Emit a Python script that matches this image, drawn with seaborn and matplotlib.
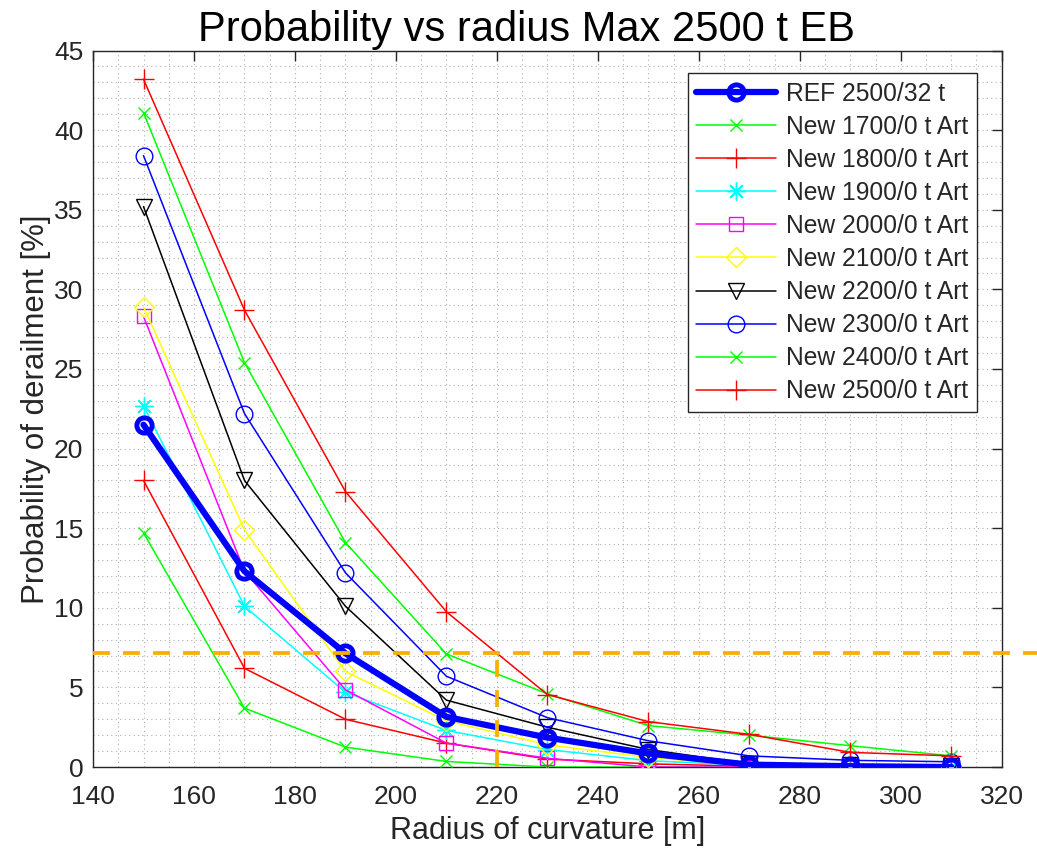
import numpy as np
import pandas as pd
import matplotlib
matplotlib.use("Agg")
import matplotlib.pyplot as plt
import seaborn as sns
from matplotlib.ticker import MultipleLocator

# ---- data ----
radius = [150, 170, 190, 210, 230, 250, 270, 290, 310]
ref_2500_32 = [21.5, 12.3, 7.14, 3.15, 1.85, 0.85, 0.15, 0.05, 0.0]
new_1700 = [14.7, 3.7, 1.25, 0.35, 0.0, 0.0, 0.0, 0.0, 0.0]
new_1800 = [18.0, 6.2, 3.0, 1.5, 0.5, 0.2, 0.05, 0.0, 0.0]
new_1900 = [22.7, 10.1, 4.7, 2.3, 1.1, 0.4, 0.1, 0.05, 0.0]
new_2000 = [28.3, 12.3, 4.85, 1.5, 0.55, 0.0, 0.0, 0.0, 0.0]
new_2100 = [28.9, 14.9, 6.0, 2.9, 1.4, 0.6, 0.1, 0.05, 0.0]
new_2200 = [35.2, 18.0, 10.1, 4.2, 2.5, 1.1, 0.2, 0.1, 0.05]
new_2300 = [38.4, 22.2, 12.2, 5.7, 3.1, 1.65, 0.7, 0.42, 0.33]
new_2400 = [41.1, 25.4, 14.1, 7.1, 4.6, 2.6, 2.0, 1.34, 0.7]
new_2500 = [43.2, 28.7, 17.3, 9.75, 4.55, 2.85, 2.05, 0.92, 0.7]

labels = ["REF 2500/32 t", "New 1700/0 t Art", "New 1800/0 t Art", "New 1900/0 t Art",
          "New 2000/0 t Art", "New 2100/0 t Art", "New 2200/0 t Art", "New 2300/0 t Art",
          "New 2400/0 t Art", "New 2500/0 t Art"]
series = [ref_2500_32, new_1700, new_1800, new_1900, new_2000, new_2100,
          new_2200, new_2300, new_2400, new_2500]
colors = ["#0000FF", "#00FF00", "#FF0000", "#00FFFF", "#FF00FF", "#FFFF00",
          "#000000", "#0000FF", "#00FF00", "#FF0000"]
markers = ["o", "x", "+", (8, 2, 0), "s", "D", "v", "o", "x", "+"]
marker_sizes = [11, 9, 14, 13, 10, 10, 12, 12, 9, 14]

limit_value = 7.14
limit_radius = 220

xticks = [140, 160, 180, 200, 220, 240, 260, 280, 300, 320]
yticks = [0, 5, 10, 15, 20, 25, 30, 35, 40, 45]

# ---- style ----
sns.set_theme(style="white")
plt.rcParams["font.family"] = ["Liberation Sans", "DejaVu Sans"]

fig = plt.figure(figsize=(10.37, 8.57), dpi=100)
ax = fig.add_axes([0.0897, 0.105, 0.8763, 0.836])

rows = []
for lab, vals in zip(labels, series):
    for r, v in zip(radius, vals):
        rows.append({"radius": r, "prob": v, "series": lab})
df = pd.DataFrame(rows)

for i, (lab, col, mk, ms) in enumerate(zip(labels, colors, markers, marker_sizes)):
    sub = df[df["series"] == lab]
    if i == 0:
        kw = dict(linewidth=4.5, markersize=ms, markeredgewidth=3.5,
                  markerfacecolor="none", zorder=5)
    else:
        kw = dict(linewidth=1.1, markersize=ms, markeredgewidth=1.0,
                  markerfacecolor="none", zorder=3)
    sns.lineplot(data=sub, x="radius", y="prob", ax=ax, color=col, marker=mk,
                 markeredgecolor=col, label=lab, legend=False, **kw)

# reference limit lines
orange = "#F5B000"
ax.plot([140, 345], [limit_value, limit_value], linestyle=(0, (4.5, 3.5)),
        color=orange, linewidth=2.7, clip_on=False, zorder=6)
ax.plot([limit_radius, limit_radius], [0, limit_value], linestyle=(0, (4.5, 3.5)),
        color=orange, linewidth=2.7, zorder=6)

ax.set_xlim(140, 320)
ax.set_ylim(0, 45)
ax.set_xticks(xticks)
ax.set_yticks(yticks)
ax.xaxis.set_minor_locator(MultipleLocator(5))
ax.yaxis.set_minor_locator(MultipleLocator(1))
ax.grid(which="both", linestyle=(0, (1, 3)), color="#b0b0b0", linewidth=0.8)
ax.set_axisbelow(True)
ax.tick_params(which="major", direction="in", length=7, width=1.0,
               top=True, right=True, labelsize=19, colors="#262626")
ax.tick_params(axis="x", which="major", pad=13)
ax.tick_params(axis="y", which="major", pad=7)
ax.tick_params(which="minor", length=0, top=True, right=True)
for s in ax.spines.values():
    s.set_color("#262626")
    s.set_linewidth(1.0)
    s.set_visible(True)

ax.set_xlabel("Radius of curvature [m]", fontsize=22, color="#262626", labelpad=5)
ax.set_ylabel("Probability of derailment [%]", fontsize=22.5, color="#262626", labelpad=2)
ax.set_title("Probability vs radius Max 2500 t EB", fontsize=30, color="black",
             pad=7, x=0.477)

handles, labs = ax.get_legend_handles_labels()
leg = ax.legend(handles, labs, loc="upper right", bbox_to_anchor=(977 / 1037, 1 - 73 / 857),
                bbox_transform=fig.transFigure, borderaxespad=0, fontsize=17.7,
                frameon=True, fancybox=False, edgecolor="#262626", framealpha=1,
                numpoints=1, handlelength=3.25, labelspacing=0.37, borderpad=0.35,
                handletextpad=0.4)
leg.get_frame().set_linewidth(1.0)

fig.savefig("out.png", dpi=100)
